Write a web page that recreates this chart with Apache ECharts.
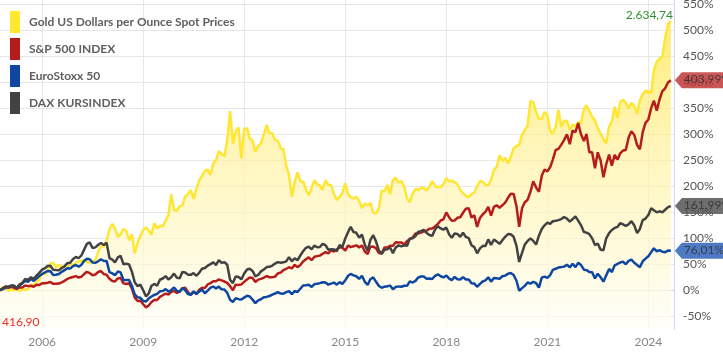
<!DOCTYPE html>
<html>
<head>
<meta charset="utf-8">
<script src="https://cdn.jsdelivr.net/npm/echarts@6/dist/echarts.min.js"></script>
<style>
  html, body { margin: 0; padding: 0; background: #fff; }
  #chart { width: 723px; height: 354px; }
</style>
</head>
<body>
<div id="chart"></div>
<script>
// one point per month, first point = October 2004 (everything starts at 0 %)
const startYear = 2004;
const startMonth = 9; // october, 0-based

const yearTicks = [2006, 2009, 2012, 2015, 2018, 2021, 2024];
const percentTicks = [-50, 0, 50, 100, 150, 200, 250, 300, 350, 400, 450, 500, 550];

const seriesNames = ['Gold US Dollars per Ounce Spot Prices', 'S&P 500 INDEX', 'EuroStoxx 50', 'DAX KURSINDEX'];

const gold = [
  0, 6, 3, -1, 2, 0, 2, -2, 3, 1,
  2, 11, 10, 16, 20, 33, 31, 37, 51, 53,
  44, 49, 46, 41, 42, 52, 48, 53, 56, 56,
  59, 55, 53, 56, 58, 74, 85, 84, 96, 117,
  128, 119, 103, 108, 118, 115, 96, 108, 71, 91,
  104, 116, 121, 115, 107, 129, 119, 124, 123, 134,
  144, 185, 155, 153, 162, 163, 180, 185, 193, 176,
  195, 212, 220, 230, 232, 222, 245, 250, 268, 262,
  258, 288, 345, 282, 306, 313, 254, 310, 312, 292,
  288, 266, 278, 283, 300, 318, 303, 302, 289, 288,
  273, 272, 240, 222, 180, 208, 227, 210, 209, 194,
  183, 197, 212, 204, 202, 193, 212, 203, 202, 185,
  174, 180, 187, 206, 185, 179, 177, 180, 172, 158,
  167, 163, 168, 149, 148, 158, 192, 190, 203, 185,
  212, 217, 207, 210, 199, 177, 169, 186, 195, 193,
  197, 197, 192, 199, 210, 201, 198, 199, 204, 216,
  209, 211, 208, 204, 193, 187, 182, 179, 185, 188,
  200, 210, 209, 203, 202, 212, 232, 237, 260, 249,
  255, 244, 257, 273, 278, 279, 300, 308, 318, 364,
  362, 343, 330, 330, 343, 337, 307, 301, 315, 347,
  314, 326, 326, 309, 319, 316, 324, 322, 348, 356,
  345, 334, 327, 312, 302, 290, 283, 315, 325, 353,
  331, 362, 367, 361, 350, 361, 355, 339, 365, 378,
  384, 382, 380, 424, 440, 445, 450, 485, 512, 518
];

const sp500 = [
  0, 3.9, 7.3, 4.5, 6.5, 4.5, 2.4, 5.5, 5.4, 9.2,
  8.0, 8.8, 6.8, 10.5, 10.4, 13.3, 13.4, 14.6, 16.0, 12.4,
  12.4, 13.0, 15.4, 18.2, 21.9, 24.0, 25.5, 27.3, 24.5, 25.8,
  31.2, 35.5, 33.0, 28.8, 30.4, 35.1, 37.1, 31.1, 29.9, 22.0,
  17.8, 17.1, 22.7, 23.9, 13.3, 12.1, 13.5, 3.1, -14.2, -20.7,
  -20.1, -26.9, -33.0, -29.4, -22.7, -18.7, -18.7, -12.7, -9.6, -6.5,
  -8.3, -3.0, -1.3, -5.0, -2.3, 3.5, 5.0, -3.6, -8.8, -2.5,
  -7.2, 1.0, 4.7, 4.5, 11.3, 13.8, 17.4, 17.3, 20.7, 19.0,
  16.9, 14.3, 7.9, 0.1, 10.9, 10.4, 11.3, 16.1, 20.9, 24.6,
  23.7, 15.9, 20.5, 22.0, 24.5, 27.5, 25.0, 25.3, 26.2, 32.6,
  34.1, 38.8, 41.4, 44.3, 42.1, 49.2, 44.5, 48.8, 55.5, 59.8,
  63.5, 57.8, 64.5, 65.7, 66.7, 70.3, 73.5, 70.9, 77.3, 74.5,
  78.6, 83.0, 82.2, 76.5, 86.3, 83.0, 84.6, 86.5, 82.6, 86.2,
  74.5, 69.9, 84.0, 84.1, 80.9, 71.7, 71.0, 82.3, 82.7, 85.6,
  85.8, 92.4, 92.1, 91.9, 88.1, 94.6, 98.1, 101.7, 109.2, 109.1,
  111.0, 113.5, 114.4, 118.6, 118.8, 122.9, 127.9, 134.3, 136.6, 149.9,
  140.2, 133.7, 134.3, 139.4, 140.5, 149.2, 156.8, 157.9, 140.0, 144.2,
  121.9, 139.3, 146.4, 150.8, 160.7, 143.5, 160.4, 163.7, 158.9, 163.5,
  168.8, 178.0, 185.9, 185.5, 161.4, 122.0, 157.7, 169.4, 174.3, 189.5,
  209.7, 197.6, 189.4, 220.5, 232.4, 228.7, 237.3, 251.6, 270.0, 272.0,
  280.4, 288.9, 300.3, 281.2, 307.5, 304.2, 321.8, 299.6, 287.1, 300.9,
  265.7, 265.7, 235.0, 265.5, 250.0, 217.3, 242.7, 261.1, 239.8, 260.8,
  251.3, 263.6, 268.9, 269.9, 293.8, 306.1, 298.9, 279.5, 271.2, 304.2,
  322.1, 328.8, 351.0, 365.0, 345.7, 367.1, 383.2, 388.7, 399.8, 403.99
];

const euroStoxx = [
  0, 2.3, 5.0, 6.2, 8.8, 8.7, 4.2, 9.4, 13.2, 18.3,
  16.1, 22.0, 18.1, 22.7, 27.3, 31.3, 34.3, 37.1, 36.6, 29.4,
  29.8, 31.3, 35.5, 38.7, 42.4, 41.8, 46.6, 48.6, 45.4, 48.8,
  56.2, 60.5, 59.7, 53.5, 52.8, 55.9, 59.7, 56.4, 56.5, 34.9,
  32.5, 29.1, 36.1, 34.4, 19.3, 19.8, 19.7, 8.1, -7.8, -13.6,
  -14.5, -20.5, -21.5, -16.0, -12.0, -9.0, -7.0, -2.0, -1.3, 2.2,
  -2.4, 0.2, 5.5, -1.2, -2.9, 4.3, 0.2, -7.2, -8.5, -2.5,
  -6.7, -2.2, 1.2, -5.7, -0.6, 5.1, 7.2, 3.6, 7.1, 1.8,
  1.4, -5.0, -18.1, -22.4, -15.2, -17.1, -17.6, -14.1, -10.6, -11.9,
  -18.0, -24.7, -19.4, -17.3, -13.2, -12.7, -11.0, -8.4, -6.2, -3.8,
  -6.3, -6.7, -3.5, -1.5, -7.4, -1.5, -3.2, 2.9, 9.1, 9.8,
  10.6, 6.5, 12.0, 12.5, 13.8, 15.4, 14.8, 10.9, 12.9, 14.8,
  10.8, 15.7, 11.9, 19.2, 28.0, 31.5, 28.6, 27.0, 21.8, 28.1,
  16.3, 10.3, 21.6, 24.7, 16.3, 8.3, 4.8, 6.9, 7.7, 9.0,
  1.9, 6.4, 7.5, 6.8, 8.7, 8.6, 17.1, 14.9, 18.1, 24.5,
  26.6, 26.5, 22.4, 22.7, 21.7, 27.9, 30.7, 27.0, 24.7, 28.4,
  22.3, 19.6, 25.8, 21.2, 20.8, 25.4, 20.7, 20.9, 13.7, 12.9,
  6.8, 12.4, 17.3, 19.2, 25.0, 16.7, 23.6, 23.3, 21.9, 27.0,
  28.2, 31.8, 33.2, 29.5, 18.4, -0.9, 4.2, 8.5, 15.0, 12.9,
  16.4, 13.6, 5.2, 24.3, 26.4, 23.8, 29.3, 39.4, 41.4, 43.7,
  44.6, 45.5, 49.3, 44.0, 51.2, 44.5, 52.9, 48.5, 39.6, 38.8,
  35.3, 34.8, 22.9, 31.9, 25.1, 16.6, 28.7, 41.1, 35.0, 48.1,
  50.8, 53.5, 55.1, 50.1, 56.5, 59.1, 52.9, 48.5, 44.5, 55.9,
  60.9, 65.4, 73.5, 80.8, 75.1, 77.3, 74.1, 73.4, 76.4, 76.01
];

const dax = [
  0, 4.0, 7.1, 6.9, 9.1, 8.9, 4.6, 11.3, 14.3, 21.6,
  20.0, 25.1, 22.0, 28.3, 33.5, 39.8, 42.5, 46.6, 47.3, 39.3,
  38.9, 38.6, 42.8, 46.0, 52.2, 52.9, 59.7, 64.1, 62.0, 66.6,
  78.2, 89.3, 92.0, 81.5, 82.6, 87.6, 91.0, 87.0, 91.3, 62.0,
  59.2, 53.8, 63.2, 66.3, 50.1, 51.2, 49.5, 35.4, 15.5, 7.9,
  10.9, -0.2, -11.8, -6.5, 8.7, 12.2, 8.9, 20.3, 22.7, 27.2,
  20.9, 25.2, 32.1, 24.0, 23.3, 35.1, 34.3, 30.1, 29.7, 33.2,
  27.9, 34.0, 41.6, 43.0, 47.3, 50.3, 54.0, 48.6, 58.1, 52.9,
  54.1, 49.1, 20.1, 13.9, 26.8, 25.4, 21.1, 32.2, 40.0, 41.5,
  37.3, 26.9, 29.6, 36.4, 40.1, 44.6, 45.1, 47.6, 51.4, 54.2,
  53.1, 53.8, 55.7, 63.9, 55.8, 61.6, 57.8, 66.9, 75.0, 81.8,
  84.2, 78.9, 85.9, 82.8, 83.3, 89.3, 86.7, 78.2, 78.9, 78.6,
  75.4, 87.2, 83.4, 99.6, 112.2, 122.2, 112.0, 110.6, 101.3, 107.3,
  87.4, 76.0, 97.0, 106.0, 93.8, 76.2, 70.3, 78.1, 78.9, 82.3,
  71.4, 82.5, 86.4, 84.4, 86.5, 85.6, 99.6, 99.9, 104.5, 112.1,
  113.7, 116.1, 110.5, 106.3, 104.7, 117.1, 123.3, 119.1, 116.7, 120.6,
  107.4, 101.2, 109.2, 108.5, 102.9, 110.6, 102.7, 100.2, 86.6, 83.0,
  71.2, 80.6, 85.6, 85.3, 97.9, 87.5, 97.7, 93.8, 89.3, 96.5,
  102.9, 108.1, 107.7, 103.0, 85.4, 54.5, 72, 88, 95, 100,
  95, 88, 105, 118, 125, 130, 128, 133, 134, 135,
  137, 141, 138, 132, 137, 142, 134, 125, 112, 111,
  108, 100, 87, 90, 78, 77, 100, 110, 116, 120,
  122, 129, 127, 124, 127, 133, 125, 110, 118, 135,
  138, 145, 158, 154, 150, 152, 150, 155, 160, 161.99
];

// lowest / highest gold price of the period, printed in the corners
const goldLow = 416.90;
const goldHigh = 2634.74;

const months = gold.map((_, i) => Date.UTC(startYear, startMonth + i, 1));
const yearStamps = yearTicks.map(y => Date.UTC(y, 0, 1));

// german number format: 2.634,74
function fmt(v) {
  let parts = v.toFixed(2).split('.');
  parts[0] = parts[0].replace(/\B(?=(\d{3})+(?!\d))/g, '.');
  return parts.join(',');
}

function pairs(values) {
  return values.map((v, i) => [months[i], v]);
}

const FONT = 'Lato, "Open Sans", sans-serif';

function endTag(color, values) {
  const last = values.length - 1;
  return {
    silent: true,
    symbol: 'path://M0,8L7,0L62,0L62,16L7,16Z',
    symbolSize: [62, 16],
    symbolKeepAspect: false,
    symbolOffset: [35, 0],
    itemStyle: { color: color, opacity: 0.85 },
    label: {
      show: true,
      position: [9, 1],
      align: 'left',
      verticalAlign: 'top',
      color: '#333',
      fontSize: 12,
      fontFamily: FONT,
      formatter: fmt(values[last]) + '%'
    },
    data: [{ coord: [months[last], values[last]] }]
  };
}

const chart = echarts.init(document.getElementById('chart'), null, { renderer: 'canvas' });

const option = {
  animation: false,
  backgroundColor: '#fff',
  textStyle: { fontFamily: FONT },
  grid: { left: 0, right: 49, top: 0, bottom: 25, outerBoundsMode: 'none' },
  legend: {
    orient: 'vertical',
    left: 5,
    top: 6,
    icon: 'rect',
    itemWidth: 10,
    itemHeight: 22,
    itemGap: 5,
    selectedMode: false,
    textStyle: { color: '#606060', fontSize: 12, fontWeight: 'bold', fontFamily: FONT, padding: [0, 0, 0, 4] },
    data: seriesNames
  },
  xAxis: {
    type: 'value',
    min: Date.UTC(2004, 9, 1),
    max: Date.UTC(2024, 9, 5),
    axisLine: { show: true, lineStyle: { color: '#ccd6eb', width: 1 } },
    axisTick: { show: false, customValues: yearStamps },
    axisLabel: {
      customValues: yearStamps,
      formatter: v => String(new Date(v).getUTCFullYear()),
      color: '#888',
      fontSize: 12,
      margin: 7
    },
    splitLine: { show: true, lineStyle: { color: '#e6e6e6', width: 1 } }
  },
  yAxis: {
    type: 'value',
    position: 'right',
    min: -74.5,
    max: 558.6,
    axisLine: { show: true, lineStyle: { color: '#ccd6eb', width: 1 } },
    axisTick: { show: false, customValues: percentTicks },
    axisLabel: {
      customValues: percentTicks,
      formatter: '{value}%',
      color: '#555',
      fontSize: 12,
      margin: 9
    },
    splitLine: { show: true, lineStyle: { color: '#e6e6e6', width: 1 } }
  },
  graphic: [
    {
      type: 'text', left: 2, top: 316, silent: true, z: 100,
      style: { text: fmt(goldLow), fill: '#ee2a24', font: '12px ' + FONT }
    },
    {
      type: 'text', right: 50, top: 9, silent: true, z: 100,
      style: { text: fmt(goldHigh), fill: '#2f8f2f', font: '12px ' + FONT }
    }
  ],
  series: [
    {
      name: seriesNames[0],
      type: 'line',
      data: pairs(gold),
      color: '#ffe82e',
      showSymbol: false,
      lineStyle: { width: 2.5, color: '#ffe633' },
      areaStyle: {
        origin: 'start',
        color: new echarts.graphic.LinearGradient(0, 0, 0, 1, [
          { offset: 0, color: '#ffe53b' },
          { offset: 0.4, color: '#fff19a' },
          { offset: 1, color: '#fffef6' }
        ])
      },
      z: 1
    },
    {
      name: seriesNames[1],
      type: 'line',
      data: pairs(sp500),
      color: '#b71c1c',
      showSymbol: false,
      lineStyle: { width: 2.5 },
      markPoint: endTag('#c0393a', sp500),
      z: 2
    },
    {
      name: seriesNames[2],
      type: 'line',
      data: pairs(euroStoxx),
      color: '#0d47a1',
      showSymbol: false,
      lineStyle: { width: 2.5 },
      markPoint: endTag('#2f62b8', euroStoxx),
      z: 3
    },
    {
      name: seriesNames[3],
      type: 'line',
      data: pairs(dax),
      color: '#424242',
      showSymbol: false,
      lineStyle: { width: 2.5 },
      markPoint: endTag('#555555', dax),
      z: 4
    }
  ]
};

chart.setOption(option);
</script>
</body>
</html>
